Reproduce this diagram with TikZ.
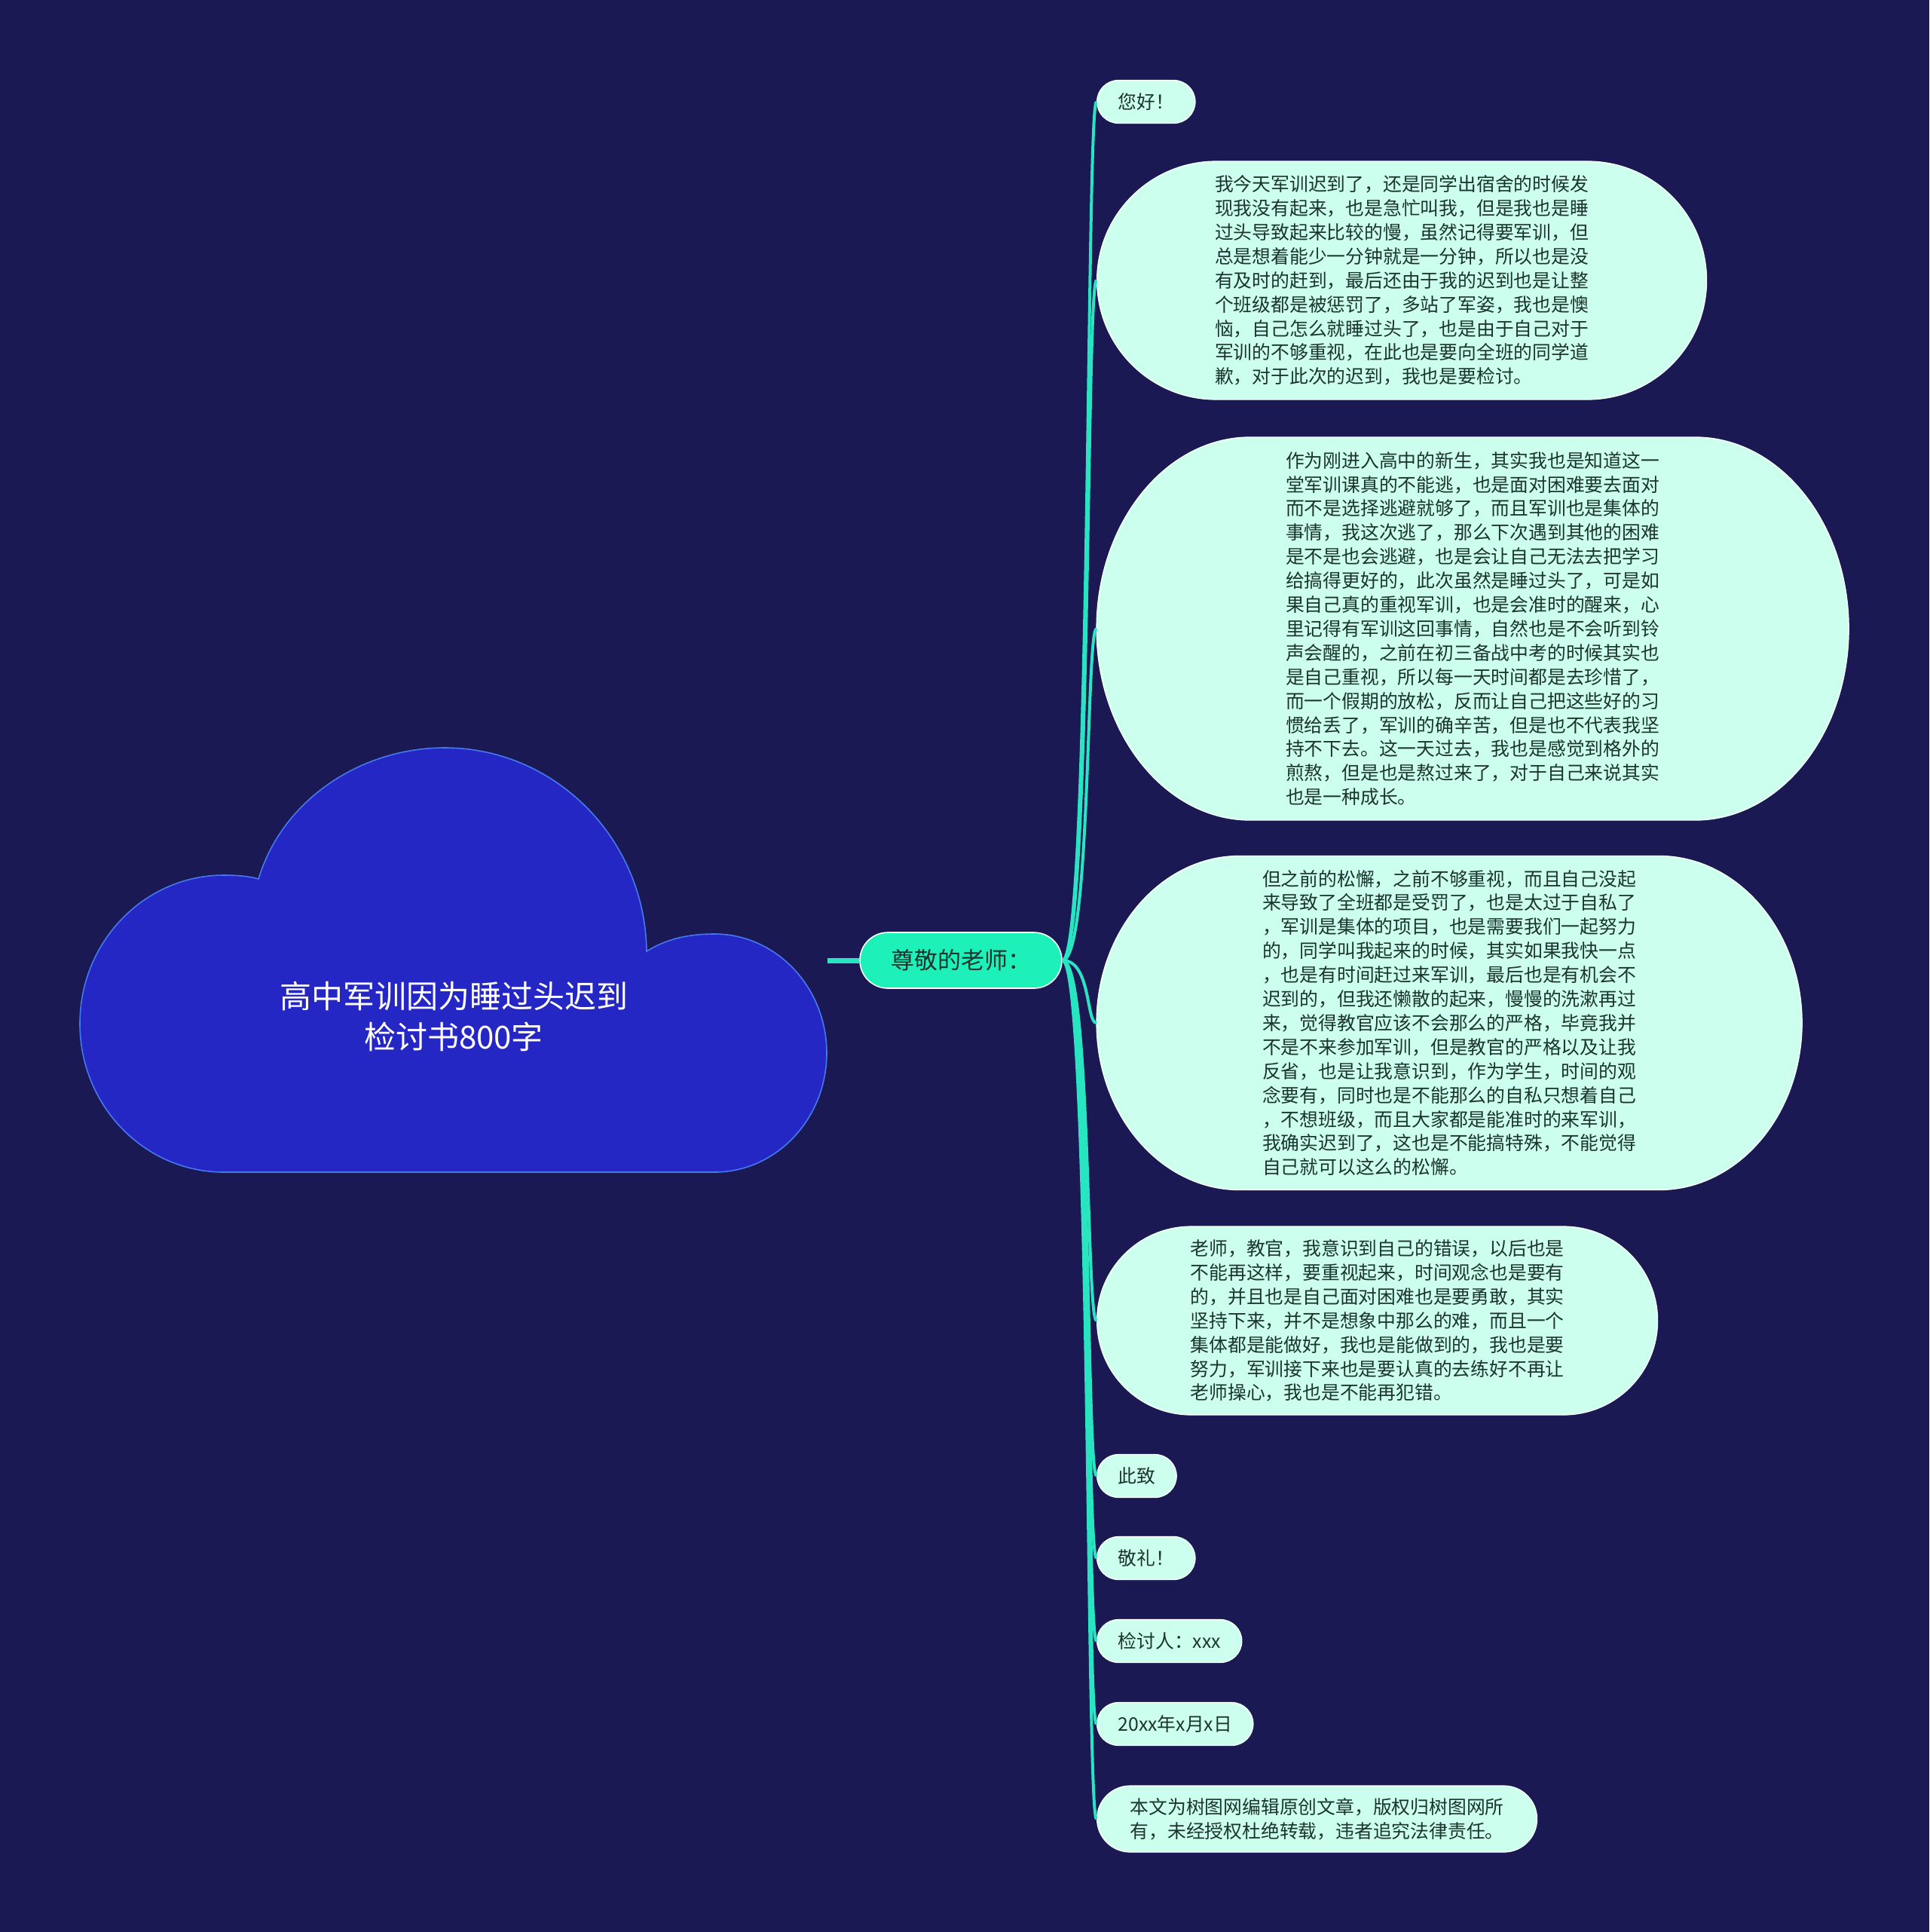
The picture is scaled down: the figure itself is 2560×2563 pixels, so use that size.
\documentclass[tikz,border=0pt]{standalone}
\usepackage{fontspec}
\setmainfont{Noto Sans CJK SC}
\usetikzlibrary{positioning,calc,backgrounds}
\definecolor{bgnavy}{RGB}{26,25,84}
\definecolor{cloudfill}{RGB}{37,39,197}
\definecolor{cloudline}{RGB}{70,120,240}
\definecolor{mint}{RGB}{204,255,238}
\definecolor{aqua}{RGB}{30,240,185}
\definecolor{branchteal}{RGB}{40,228,192}
\definecolor{ink}{RGB}{28,52,46}
\tikzset{
  leaf/.style={draw=white,line width=0.6pt,fill=mint,text=ink,anchor=west,align=left,
               font=\fontsize{12.4pt}{15.95pt}\selectfont,inner xsep=14pt,inner ysep=6pt},
  ovalleaf/.style={leaf,draw=none,fill=none},
  tagbox/.style={leaf,minimum height=28.5pt,rounded corners=14.25pt},
  hub/.style={draw=white,line width=0.8pt,fill=aqua,text=ink,rounded corners=18.5pt,
              minimum width=134pt,minimum height=37pt,font=\fontsize{15.5pt}{18pt}\selectfont},
  titletext/.style={text=white,align=center,font=\fontsize{21pt}{27pt}\selectfont},
  branch/.style={draw=branchteal,line width=2pt},
  trunk/.style={draw=branchteal,line width=3.5pt},
}
% ovale achtergrond achter een knoop: naam, rx, ry
\newcommand{\ovalbg}[3]{%
  \begin{scope}[on background layer]
    \draw[draw=white,line width=0.6pt,fill=mint]
      ($(#1.north west)+(#2,0)$) -- ($(#1.north east)+(-#2,0)$)
      .. controls +(0.552*#2,0) and +(0,-0.552*#3) .. (#1.east)
      .. controls +(0,0.552*#3) and +(0.552*#2,0) .. ($(#1.south east)+(-#2,0)$)
      -- ($(#1.south west)+(#2,0)$)
      .. controls +(-0.552*#2,0) and +(0,0.552*#3) .. (#1.west)
      .. controls +(0,-0.552*#3) and +(-0.552*#2,0) .. ($(#1.north west)+(#2,0)$)
      -- cycle;
  \end{scope}}
\begin{document}
\begin{tikzpicture}[x=0.5pt,y=-0.5pt]
  \begin{scope}[on background layer]
    \fill[bgnavy] (0,0) rectangle (2560,2563);
  \end{scope}
  \useasboundingbox (0,0) rectangle (2560,2563);

  % --- wolk met titel -----------------------------------------------------
  \draw[cloudline,line width=0.8pt,fill=cloudfill]
    (297,1555) .. controls (192,1555) and (106,1467) .. (106,1358)
    .. controls (106,1249) and (192,1161) .. (297,1161)
    .. controls (318,1161) and (333,1163) .. (343,1166)
    .. controls (375,1060) and (480,992) .. (590,992)
    .. controls (736,992) and (856,1112) .. (858,1262)
    .. controls (885,1245) and (915,1239) .. (948,1239)
    .. controls (1030,1239) and (1097,1310) .. (1097,1397)
    .. controls (1097,1484) and (1030,1555) .. (948,1555)
    -- cycle;
  \node[titletext] (title) at (602,1348) {高中军训因为睡过头迟到\\检讨书800字};

  % --- middelste knoop ----------------------------------------------------
  \node[hub] (teacher) at (1275,1274) {尊敬的老师：};
  \coordinate (cloudR) at (1098,1274);
  \draw[trunk] (cloudR) -- (teacher.west);

  % --- bladeren -----------------------------------------------------------
  \node[tagbox] (hello) at (1455,135) {您好！};
  \node[leaf,minimum width=404.5pt,minimum height=158pt,rounded corners=79pt] (late) at (1455,372)
    {我今天军训迟到了，还是同学出宿舍的时候发\\
     现我没有起来，也是急忙叫我，但是我也是睡\\
     过头导致起来比较的慢，虽然记得要军训，但\\
     总是想着能少一分钟就是一分钟，所以也是没\\
     有及时的赶到，最后还由于我的迟到也是让整\\
     个班级都是被惩罚了，多站了军姿，我也是懊\\
     恼，自己怎么就睡过头了，也是由于自己对于\\
     军训的不够重视，在此也是要向全班的同学道\\
     歉，对于此次的迟到，我也是要检讨。};
  \node[ovalleaf,minimum width=498.5pt,minimum height=253.5pt] (fresh) at (1455,834)
    {作为刚进入高中的新生，其实我也是知道这一\\
     堂军训课真的不能逃，也是面对困难要去面对\\
     而不是选择逃避就够了，而且军训也是集体的\\
     事情，我这次逃了，那么下次遇到其他的困难\\
     是不是也会逃避，也是会让自己无法去把学习\\
     给搞得更好的，此次虽然是睡过头了，可是如\\
     果自己真的重视军训，也是会准时的醒来，心\\
     里记得有军训这回事情，自然也是不会听到铃\\
     声会醒的，之前在初三备战中考的时候其实也\\
     是自己重视，所以每一天时间都是去珍惜了，\\
     而一个假期的放松，反而让自己把这些好的习\\
     惯给丢了，军训的确辛苦，但是也不代表我坚\\
     持不下去。这一天过去，我也是感觉到格外的\\
     煎熬，但是也是熬过来了，对于自己来说其实\\
     也是一种成长。};
  \ovalbg{fresh}{204}{253.5}
  \node[ovalleaf,minimum width=467.5pt,minimum height=221pt] (slack) at (1455,1357)
    {但之前的松懈，之前不够重视，而且自己没起\\
     来导致了全班都是受罚了，也是太过于自私了\\
     ，军训是集体的项目，也是需要我们一起努力\\
     的，同学叫我起来的时候，其实如果我快一点\\
     ，也是有时间赶过来军训，最后也是有机会不\\
     迟到的，但我还懒散的起来，慢慢的洗漱再过\\
     来，觉得教官应该不会那么的严格，毕竟我并\\
     不是不来参加军训，但是教官的严格以及让我\\
     反省，也是让我意识到，作为学生，时间的观\\
     念要有，同时也是不能那么的自私只想着自己\\
     ，不想班级，而且大家都是能准时的来军训，\\
     我确实迟到了，这也是不能搞特殊，不能觉得\\
     自己就可以这么的松懈。};
  \ovalbg{slack}{190}{221}
  \node[leaf,minimum width=372pt,minimum height=125pt,rounded corners=62.5pt] (promise) at (1455,1752)
    {老师，教官，我意识到自己的错误，以后也是\\
     不能再这样，要重视起来，时间观念也是要有\\
     的，并且也是自己面对困难也是要勇敢，其实\\
     坚持下来，并不是想象中那么的难，而且一个\\
     集体都是能做好，我也是能做到的，我也是要\\
     努力，军训接下来也是要认真的去练好不再让\\
     老师操心，我也是不能再犯错。};
  \node[tagbox] (cizhi)  at (1455,1958) {此致};
  \node[tagbox] (jingli) at (1455,2067) {敬礼！};
  \node[tagbox] (signer) at (1455,2177) {检讨人：xxx};
  \node[tagbox] (date)   at (1455,2287) {20xx年x月x日};
  \node[leaf,inner xsep=22pt,minimum height=44pt,rounded corners=22pt] (note) at (1455,2413)
    {本文为树图网编辑原创文章，版权归树图网所\\
     有，未经授权杜绝转载，违者追究法律责任。};

  % --- takken ---------------------------------------------------------------
  \foreach \n in {hello,late,fresh,slack,promise,cizhi,jingli,signer,date,note}
    \draw[branch] (teacher.east) .. controls +(38,0) and +(-14,0) .. (\n.west);

\end{tikzpicture}
\end{document}
